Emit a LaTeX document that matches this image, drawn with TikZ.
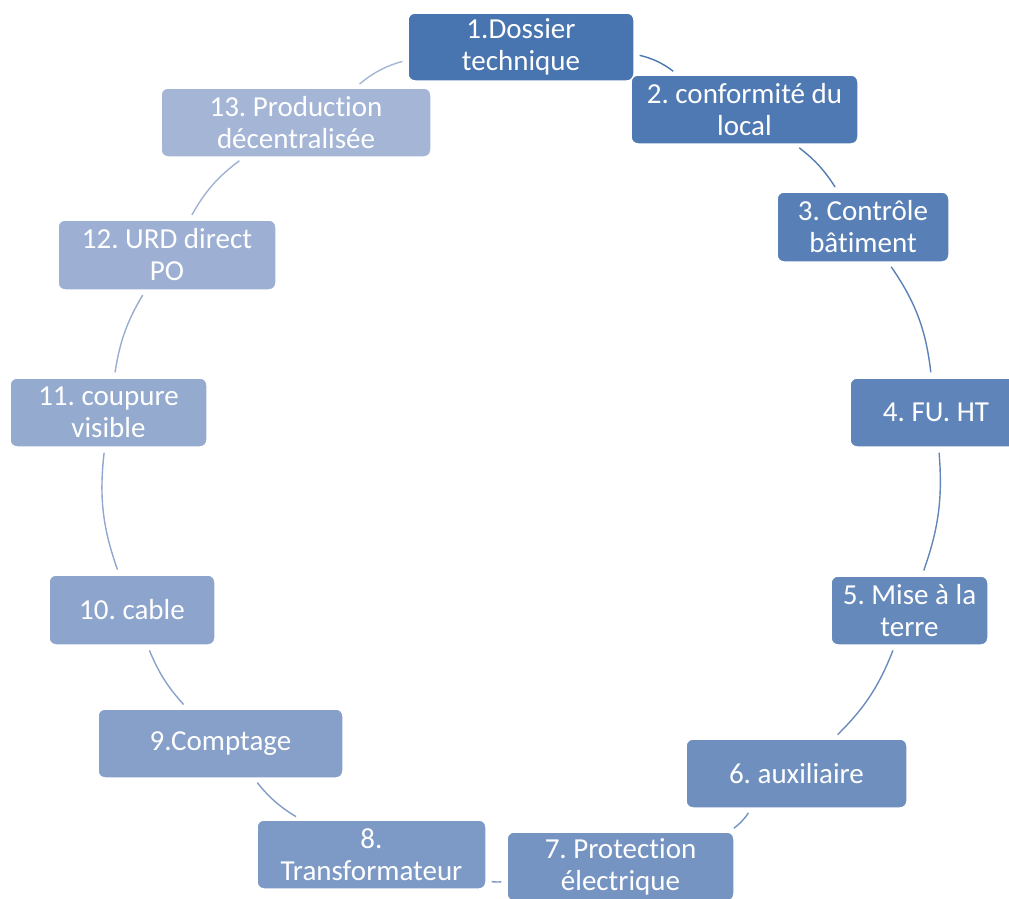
\documentclass[tikz,border=0pt]{standalone}
\usepackage{fontspec}
\setmainfont{Carlito}[Ligatures={NoCommon}]
\definecolor{cA}{RGB}{72,116,175}
\definecolor{cB}{RGB}{164,181,214}
\tikzset{
  box/.style={draw=white, line width=1.5pt, rounded corners=7pt, text=white,
    font=\fontsize{29}{32}\selectfont\frenchspacing, align=center, inner sep=0pt},
  link/.style={line width=1.4pt, shorten >=5pt, shorten <=5pt}
}
\begin{document}
\begin{tikzpicture}[x=1pt,y=-1pt]
\useasboundingbox (0,0) rectangle (1009,898);
\node[box, fill=cB!0!cA,   minimum width=226, minimum height=68] (n1) at (521,47) {1.Dossier\\technique};
\node[box, fill=cB!8!cA,   minimum width=227, minimum height=69] (n2) at (744.5,109.5) {2. conformité du\\local};
\node[box, fill=cB!17!cA,  minimum width=172, minimum height=70] (n3) at (863,227) {3. Contrôle\\bâtiment};
\node[box, fill=cB!25!cA,  minimum width=172, minimum height=69] (n4) at (936,412.5) {4. FU. HT};
\node[box, fill=cB!33!cA,  minimum width=157, minimum height=69] (n5) at (909.5,610.5) {5. Mise à la\\terre};
\node[box, fill=cB!42!cA,  minimum width=221, minimum height=69] (n6) at (796.5,773.5) {6. auxiliaire};
\node[box, fill=cB!50!cA,  minimum width=227, minimum height=69] (n7) at (620.5,866.5) {7. Protection\\électrique};
\node[box, fill=cB!58!cA,  minimum width=229, minimum height=69] (n8) at (371.5,854.5) {8.\\Transformateur};
\node[box, fill=cB!67!cA,  minimum width=245, minimum height=69] (n9) at (220.5,743.5) {9.Comptage};
\node[box, fill=cB!75!cA,  minimum width=166, minimum height=70] (n10) at (132,610) {10. cable};
\node[box, fill=cB!83!cA,  minimum width=197, minimum height=69] (n11) at (108.5,412.5) {11. coupure\\visible};
\node[box, fill=cB!92!cA,  minimum width=218, minimum height=70] (n12) at (167,255) {12. URD direct\\PO};
\node[box, fill=cB!100!cA, minimum width=270, minimum height=69] (n13) at (296,122.5) {13. Production\\décentralisée};

\draw[link, cB!4!cA]   (n1)  to[bend left=12] (n2);
\draw[link, cB!12!cA]  (n2)  to[bend left=10] (n3);
\draw[link, cB!21!cA]  (n3)  to[bend left=14] (n4);
\draw[link, cB!29!cA]  (n4)  to[bend left=12] (n5);
\draw[link, cB!37!cA]  (n5)  to[bend left=12] (n6);
\draw[link, cB!46!cA]  (n6)  to[bend left=10] (n7);
\draw[link, cB!54!cA]  (n7)  to[bend left=10] (n8);
\draw[link, cB!62!cA]  (n8)  to[bend left=10] (n9);
\draw[link, cB!71!cA]  (n9)  to[bend left=10] (n10);
\draw[link, cB!79!cA]  (n10) to[bend left=13] (n11);
\draw[link, cB!87!cA]  (n11) to[bend left=11] (n12);
\draw[link, cB!96!cA]  (n12) to[bend left=12] (n13);
\draw[link, cB!100!cA] (n13) to[bend left=12] (n1);
\end{tikzpicture}
\end{document}
